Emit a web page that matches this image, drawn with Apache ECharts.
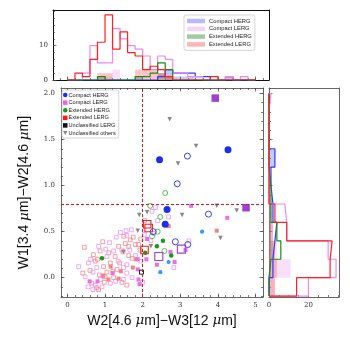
<!DOCTYPE html>
<html>
<head>
<meta charset="utf-8">
<script src="https://cdn.jsdelivr.net/npm/echarts@6/dist/echarts.min.js"></script>
<style>
  html, body { margin: 0; padding: 0; background: #fff; }
  #chart { width: 350px; height: 350px; }
</style>
</head>
<body>
<div id="chart"></div>
<script>
// ---- data ----
// colour cuts
var w2w3Cut = 2.0;
var w1w2Cut = 0.8;

// tick labels
var xMajor = [0, 1, 2, 3, 4, 5];
var yMajor = [0, 0.5, 1.0, 1.5, 2.0];
var topMajor = [0, 10];
var rightMajor = [0, 20];

// top histogram (W2-W3), bin edges + counts
var topEdges = [0.0, 0.2, 0.4, 0.6, 0.8, 1.0, 1.2, 1.4, 1.6, 1.8, 2.0, 2.2, 2.4, 2.6, 2.8, 3.0, 3.2, 3.4, 3.6, 3.8, 4.0, 4.2, 4.4, 4.6, 4.8, 5.0];
var topCmpHerg = [0, 0, 0, 0, 0, 0, 0, 0, 0, 0, 0, 0, 1, 3, 2, 2, 2, 1, 1, 0, 0, 1, 0, 0, 0];
var topCmpLerg = [0, 0, 2, 10, 5, 5, 15, 12, 10, 9, 7, 3, 7, 6, 2, 2, 1, 1, 0, 0, 0, 1, 0, 1, 0];
var topExtHerg = [0, 0, 0, 0, 1, 0, 0, 0, 0, 1, 1, 2, 5, 3, 0, 0, 0, 0, 0, 0, 0, 0, 0, 0, 0];
var topExtLerg = [0, 2, 1, 6, 11, 19, 9, 14, 8, 7, 3, 4, 3, 1, 0, 0, 0, 0, 0, 1, 0, 0, 0, 0, 0];
// faint filled sub-samples
var topCmpHergSub = [0, 0, 0, 0, 0, 0, 0, 0, 0, 0, 0, 0, 0, 3, 1, 1, 1, 0, 0, 0, 0, 1, 0, 0, 0];
var topCmpLergSub = [0, 0, 0, 0, 0, 1, 3, 0, 0, 0, 0, 0, 2, 2, 0, 0, 0, 0, 0, 0, 0, 1, 0, 0, 0];
var topExtHergSub = [0, 0, 0, 0, 1, 0, 0, 0, 0, 1, 0, 0, 2, 1, 0, 0, 0, 0, 0, 0, 0, 0, 0, 0, 0];
var topExtLergSub = [0, 0, 0, 0, 2, 2, 0, 0, 0, 3, 3, 3, 2, 1, 0, 0, 0, 0, 0, 0, 0, 0, 0, 0, 0];

// right histogram (W1-W2)
var rightEdges = [-0.2, 0.0, 0.2, 0.4, 0.6, 0.8, 1.0, 1.2, 1.4, 1.6, 1.8, 2.0];
var rightCmpHerg = [0, 2, 3, 4, 2, 1, 1, 3, 0, 0, 0];
var rightCmpLerg = [20, 34, 30, 9, 8, 0, 0, 0, 0, 0, 1];
var rightExtHerg = [0, 1, 6, 4, 1, 1, 0, 0, 0, 0, 0];
var rightExtLerg = [14, 31, 32, 9, 3, 0, 0, 0, 0, 0, 0];
var rightCmpHergSub = [0, 1, 1, 1, 1, 0, 0, 3, 0, 0, 0];
var rightCmpLergSub = [3, 11, 4, 2, 1, 0, 0, 0, 0, 0, 0];
var rightExtHergSub = [0, 1, 2, 1, 0, 0, 0, 0, 0, 0, 0];
var rightExtLergSub = [3, 4, 3, 2, 1, 0, 0, 0, 0, 0, 0];

// scatter: [W2-W3, W1-W2]
var cmpHergFilled = [[2.45, 1.28], [4.27, 1.39], [2.65, 0.74], [2.60, 0.58]];
var cmpHergLight = [[3.58, 0.50], [2.69, 0.17], [2.47, 0.06]];
var cmpHergOpen = [[3.19, 1.32], [2.92, 1.02], [2.28, 0.50], [2.87, 0.39], [3.20, 0.36], [3.75, 0.69]];

var cmpLergBig = [[3.93, 1.95], [4.75, 0.76]];
var cmpLergBigOpen = [[3.03, 0.31], [2.43, 0.23]];
var cmpLergFilled = [[3.29, 0.78], [4.25, 0.65], [3.14, 0.30], [2.74, 0.28], [2.10, 0.20], [2.85, 0.17],
  [2.38, 0.14], [1.92, -0.07], [1.87, 0.20], [1.87, 0.09], [1.89, -0.02], [0.59, -0.04], [0.80, -0.04],
  [2.12, 0.42], [1.20, 0.05]];
var cmpLergOpen = [[1.41, 0.49], [1.56, 0.51], [1.58, 0.46], [1.12, 0.38], [0.83, 0.34], [1.45, 0.30],
  [1.23, 0.29], [1.05, 0.23], [1.81, 0.24], [0.56, 0.16], [1.58, 0.14], [1.49, 0.11], [0.78, 0.11],
  [0.68, 0.06], [1.58, 0.05], [0.94, 0.02], [0.47, 0.01], [1.49, -0.02], [0.74, -0.08], [0.68, -0.13],
  [0.92, -0.10], [1.14, -0.06], [2.34, 0.76], [2.69, 0.66], [3.23, 0.40], [2.83, 0.11], [2.22, 0.40],
  [2.30, 0.48], [2.05, 0.47], [0.30, 0.12], [1.30, 0.44], [1.70, 0.52], [0.62, 0.20], [1.02, 0.31],
  [1.35, 0.18], [0.88, -0.02], [1.28, -0.04], [0.55, -0.10], [1.72, 0.00], [1.66, 0.30], [2.25, 0.72],
  [2.40, 0.62], [1.95, 0.18], [2.00, -0.05]];

var extHergFilled = [[2.54, 0.40], [0.92, 0.21], [2.07, 0.27], [2.76, 0.24], [2.38, 0.34]];
var extHergOpen = [[2.60, 0.92], [2.47, 0.66], [2.25, 0.45], [2.58, 0.29], [2.40, 0.50], [2.20, 0.78]];

var extLergBigOpen = [[2.12, 0.58], [2.16, 0.54], [2.05, 0.30]];
var extLergFilled = [[2.69, 0.56], [3.97, 0.51], [1.83, 0.20], [1.74, 0.11], [1.42, 0.07], [1.09, -0.02],
  [1.36, -0.01], [1.15, 0.12], [0.95, 0.02]];
var extLergOpen = [[1.67, 0.41], [0.94, 0.39], [0.45, 0.33], [1.36, 0.34], [1.54, 0.37], [1.63, 0.34],
  [1.81, 0.36], [1.89, 0.36], [1.48, 0.28], [0.87, 0.29], [0.69, 0.25], [1.27, 0.23], [1.63, 0.24],
  [1.72, 0.21], [0.74, 0.18], [1.14, 0.16], [1.39, 0.16], [0.96, 0.12], [1.32, 0.09], [0.41, 0.05],
  [1.05, 0.06], [1.21, 0.07], [0.85, 0.03], [1.23, 0.00], [0.65, -0.06], [0.78, -0.11], [0.83, -0.13],
  [0.98, -0.05], [1.58, -0.08], [1.00, 0.01], [1.95, 0.42], [1.93, 0.30], [2.05, 0.62], [0.60, 0.08],
  [1.10, 0.27], [1.50, 0.45], [0.80, 0.20], [1.45, -0.05], [1.75, 0.44]];

var unclLerg = [[1.97, 0.06]];
var unclOthers = [[2.72, 1.72], [3.42, 1.43], [2.94, 1.24], [2.12, 0.71], [3.97, 0.78], [4.50, 0.73],
  [3.05, 0.68], [4.07, 0.43], [1.91, 0.68], [1.87, 0.51], [1.49, 0.28], [2.22, 0.34]];

// ---- helpers ----
var frameCol = '#666';
var tickCol = '#444';

function range(a, b, step) {
  var out = [];
  for (var v = a; v <= b + 1e-9; v += step) out.push(Math.round(v * 100) / 100);
  return out;
}

function outline(edges, counts, vertical) {
  var pts = [[edges[0], 0]];
  for (var i = 0; i < counts.length; i++) {
    pts.push([edges[i], counts[i]]);
    pts.push([edges[i + 1], counts[i]]);
  }
  pts.push([edges[edges.length - 1], 0]);
  if (vertical) pts = pts.map(function (p) { return [p[1], p[0]]; });
  return pts;
}

function bars(edges, counts) {
  var out = [];
  for (var i = 0; i < counts.length; i++) {
    if (counts[i] > 0) out.push([edges[i], edges[i + 1], counts[i]]);
  }
  return out;
}

var xAxes = [], yAxes = [];
function addAxis(list, o) {
  var a = {
    type: 'value', gridIndex: o.grid, position: o.pos, min: o.min, max: o.max,
    axisLine: { show: o.line !== false, onZero: false, lineStyle: { color: o.frame || frameCol, width: 1 } },
    axisTick: { show: !!o.ticks, inside: true, length: o.len || 3.5, customValues: o.ticks || [],
      lineStyle: { color: tickCol, width: 0.7 } },
    axisLabel: { show: false },
    splitLine: { show: false }
  };
  if (o.labels) {
    a.axisLabel = { show: true, customValues: o.labels, margin: o.margin || 4,
      fontFamily: 'DejaVu Serif', fontSize: 7, color: '#333', formatter: o.fmt };
  }
  if (o.extra) Object.assign(a, o.extra);
  list.push(a);
  return list.length - 1;
}

var nameStyle = { fontFamily: 'Liberation Sans', fontSize: 14, color: '#111',
  rich: { i: { fontStyle: 'italic', fontFamily: 'DejaVu Serif', fontSize: 13.5, color: '#111' } } };

// scatter grid (0)
var sx = addAxis(xAxes, { grid: 0, pos: 'bottom', min: -0.17, max: 5.2, ticks: xMajor, labels: xMajor,
  fmt: function (v) { return String(v); }, margin: 5,
  extra: { name: 'W2[4.6 {i|μ}m]−W3[12 {i|μ}m]', nameLocation: 'middle', nameGap: 13,
    nameTextStyle: Object.assign({ verticalAlign: 'top' }, nameStyle) } });
addAxis(xAxes, { grid: 0, pos: 'bottom', min: -0.17, max: 5.2, ticks: range(-0.2, 5.2, 0.2), len: 2, line: false });
addAxis(xAxes, { grid: 0, pos: 'top', min: -0.17, max: 5.2, ticks: xMajor });
addAxis(xAxes, { grid: 0, pos: 'top', min: -0.17, max: 5.2, ticks: range(-0.2, 5.2, 0.2), len: 2, line: false });
var sy = addAxis(yAxes, { grid: 0, pos: 'left', min: -0.21, max: 2.06, ticks: yMajor, labels: yMajor,
  fmt: function (v) { return v.toFixed(1); }, margin: 6,
  extra: { name: 'W1[3.4 {i|μ}m]−W2[4.6 {i|μ}m]', nameLocation: 'middle', nameGap: 30,
    nameTextStyle: nameStyle } });
addAxis(yAxes, { grid: 0, pos: 'left', min: -0.21, max: 2.06, ticks: range(-0.2, 2.0, 0.1), len: 2, line: false });
addAxis(yAxes, { grid: 0, pos: 'right', min: -0.21, max: 2.06, ticks: yMajor });
addAxis(yAxes, { grid: 0, pos: 'right', min: -0.21, max: 2.06, ticks: range(-0.2, 2.0, 0.1), len: 2, line: false });

// top histogram grid (1)
var tx = addAxis(xAxes, { grid: 1, pos: 'bottom', min: -0.383, max: 5.36, ticks: xMajor, frame: '#111' });
addAxis(xAxes, { grid: 1, pos: 'bottom', min: -0.383, max: 5.36, ticks: range(-0.2, 5.2, 0.2), len: 2, line: false });
addAxis(xAxes, { grid: 1, pos: 'top', min: -0.383, max: 5.36, frame: '#111' });
var ty = addAxis(yAxes, { grid: 1, pos: 'left', min: 0, max: 20.4, ticks: topMajor, labels: topMajor,
  fmt: function (v) { return String(v); }, margin: 5, frame: '#111' });
addAxis(yAxes, { grid: 1, pos: 'left', min: 0, max: 20.4, ticks: range(0, 20, 2), len: 2, line: false });
addAxis(yAxes, { grid: 1, pos: 'right', min: 0, max: 20.4, frame: '#111' });

// right histogram grid (2)
var rx = addAxis(xAxes, { grid: 2, pos: 'bottom', min: 0, max: 35.5, ticks: rightMajor, labels: rightMajor,
  fmt: function (v) { return String(v); }, margin: 5 });
addAxis(xAxes, { grid: 2, pos: 'bottom', min: 0, max: 35.5, ticks: range(0, 35, 5), len: 2, line: false });
addAxis(xAxes, { grid: 2, pos: 'top', min: 0, max: 35.5 });
var ry = addAxis(yAxes, { grid: 2, pos: 'left', min: -0.21, max: 2.06, ticks: yMajor });
addAxis(yAxes, { grid: 2, pos: 'left', min: -0.21, max: 2.06, ticks: range(-0.2, 2.0, 0.1), len: 2, line: false });
addAxis(yAxes, { grid: 2, pos: 'right', min: -0.21, max: 2.06 });

// ---- series ----
var cls = [
  { name: 'Compact HERG', line: '#2a3cff', fill: 'rgba(90,100,255,0.35)', key: 'rgba(110,120,255,0.5)' },
  { name: 'Compact LERG', line: '#ee88ee', fill: 'rgba(240,150,240,0.3)', key: 'rgba(240,170,240,0.5)' },
  { name: 'Extended HERG', line: '#1a8a1a', fill: 'rgba(40,140,40,0.35)', key: 'rgba(80,160,80,0.55)' },
  { name: 'Extended LERG', line: '#ff2020', fill: 'rgba(255,90,90,0.35)', key: 'rgba(255,120,120,0.55)' }
];
var topCounts = [topCmpHerg, topCmpLerg, topExtHerg, topExtLerg];
var topSubs = [topCmpHergSub, topCmpLergSub, topExtHergSub, topExtLergSub];
var rightCounts = [rightCmpHerg, rightCmpLerg, rightExtHerg, rightExtLerg];
var rightSubs = [rightCmpHergSub, rightCmpLergSub, rightExtHergSub, rightExtLergSub];

var series = [];
cls.forEach(function (c, k) {
  var col = c.fill;
  series.push({
    type: 'custom', name: c.name + ' (hist)', xAxisIndex: tx, yAxisIndex: ty, silent: true,
    data: bars(topEdges, topSubs[k]), encode: { x: [0, 1], y: 2 },
    renderItem: function (params, api) {
      var p0 = api.coord([api.value(0), api.value(2)]);
      var p1 = api.coord([api.value(1), 0]);
      return { type: 'rect', shape: { x: p0[0], y: p0[1], width: p1[0] - p0[0], height: p1[1] - p0[1] },
        style: { fill: col } };
    }
  });
  series.push({
    type: 'custom', name: c.name + ' (hist)', xAxisIndex: rx, yAxisIndex: ry, silent: true,
    data: bars(rightEdges, rightSubs[k]), encode: { x: 2, y: [0, 1] },
    renderItem: function (params, api) {
      var p0 = api.coord([0, api.value(1)]);
      var p1 = api.coord([api.value(2), api.value(0)]);
      return { type: 'rect', shape: { x: p0[0], y: p0[1], width: p1[0] - p0[0], height: p1[1] - p0[1] },
        style: { fill: col } };
    }
  });
});
cls.forEach(function (c, k) {
  series.push({
    type: 'line', name: c.name + ' (hist)', xAxisIndex: tx, yAxisIndex: ty, silent: true,
    data: outline(topEdges, topCounts[k], false), showSymbol: false, symbol: 'none',
    lineStyle: { color: c.line, width: 1.2 }, itemStyle: { color: c.line }
  });
  series.push({
    type: 'line', name: c.name + ' (hist)', xAxisIndex: rx, yAxisIndex: ry, silent: true,
    data: outline(rightEdges, rightCounts[k], true), showSymbol: false, symbol: 'none',
    lineStyle: { color: c.line, width: 1.2 }, itemStyle: { color: c.line }
  });
});

function pts(name, data, symbol, size, fill, border, bw) {
  series.push({
    type: 'scatter', name: name, xAxisIndex: sx, yAxisIndex: sy, data: data,
    symbol: symbol, symbolSize: size, silent: true,
    itemStyle: { color: fill, borderColor: border, borderWidth: bw, opacity: 1 }
  });
}
var triDown = 'path://M0,0L10,0L5,9Z';
pts('Extended LERG', extLergOpen, 'rect', 3.8, 'transparent', '#f27a7a', 0.7);
pts('Compact LERG', cmpLergOpen, 'rect', 3.8, 'transparent', '#e888ee', 0.7);
pts('Extended LERG', extLergFilled, 'rect', 4, '#f08484', '#f08484', 0);
pts('Compact LERG', cmpLergFilled, 'rect', 4, '#e870e8', '#e870e8', 0);
pts('Unclassified others', unclOthers, triDown, 4.5, '#888', '#888', 0);
pts('Unclassified LERG', unclLerg, 'rect', 4, 'transparent', '#111', 0.9);
pts('Extended HERG', extHergOpen, 'circle', 5, 'transparent', '#44bb44', 0.9);
pts('Extended HERG', extHergFilled, 'circle', 4.5, '#1a9a1a', '#1a9a1a', 0);
pts('Extended LERG', extLergBigOpen, 'rect', 7.5, 'transparent', '#ee2222', 1.1);
pts('Compact LERG', cmpLergBigOpen, 'rect', 8, 'transparent', '#a040c8', 1.1);
pts('Compact LERG', cmpLergBig, 'rect', 7.5, '#a040d0', '#a040d0', 0);
pts('Compact HERG', cmpHergOpen, 'circle', 6, 'transparent', '#3344ee', 1);
pts('Compact HERG', cmpHergLight, 'circle', 4.2, '#3399ff', '#3399ff', 0);
pts('Compact HERG', cmpHergFilled, 'circle', 7, '#1a30f0', '#1a30f0', 0);

// colour cuts as dashed lines
series.push({
  type: 'scatter', name: 'cuts', xAxisIndex: sx, yAxisIndex: sy, data: [], silent: true,
  markLine: {
    silent: true, symbol: ['none', 'none'], label: { show: false }, animation: false,
    lineStyle: { color: '#d81818', type: [3, 2], width: 1 },
    data: [{ xAxis: w2w3Cut }, { yAxis: w1w2Cut }]
  }
});

var myChart = echarts.init(document.getElementById('chart'), null, { renderer: 'canvas' });
var option = {
  animation: false,
  grid: [
    { left: 61, top: 88, width: 202, height: 209 },
    { left: 53, top: 10, width: 216, height: 70 },
    { left: 269, top: 88, width: 70, height: 209 }
  ],
  xAxis: xAxes,
  yAxis: yAxes,
  legend: [
    {
      left: 62, top: 90, orient: 'vertical', itemWidth: 4.5, itemHeight: 4.5, itemGap: 1.6,
      padding: [2, 3, 2, 1], borderColor: '#ccc', borderWidth: 0.8, borderRadius: 2,
      backgroundColor: 'rgba(255,255,255,0.85)', selectedMode: false,
      textStyle: { fontFamily: 'Liberation Sans', fontSize: 5.6, color: '#222', padding: [0, 0, 0, -4], lineHeight: 5 },
      data: [
        { name: 'Compact HERG', icon: 'circle', itemStyle: { color: '#1a30f0', borderWidth: 0 } },
        { name: 'Compact LERG', icon: 'rect', itemStyle: { color: '#e866e8', borderWidth: 0 } },
        { name: 'Extended HERG', icon: 'circle', itemStyle: { color: '#1a9a1a', borderWidth: 0 } },
        { name: 'Extended LERG', icon: 'rect', itemStyle: { color: '#ff1a1a', borderWidth: 0 } },
        { name: 'Unclassified LERG', icon: 'rect', itemStyle: { color: '#111', borderWidth: 0 } },
        { name: 'Unclassified others', icon: triDown, itemStyle: { color: '#888', borderWidth: 0 } }
      ]
    },
    {
      left: 184, top: 15, orient: 'vertical', itemWidth: 18, itemHeight: 4.5, itemGap: 1.8,
      padding: [3, 3, 3, 3], borderColor: '#ccc', borderWidth: 0.8, borderRadius: 2,
      backgroundColor: 'rgba(255,255,255,0.85)', selectedMode: false,
      textStyle: { fontFamily: 'Liberation Sans', fontSize: 5.8, color: '#222', lineHeight: 5, padding: [0, 0, 0, -1] },
      formatter: function (n) { return n.replace(' (hist)', ''); },
      data: cls.map(function (c) {
        return { name: c.name + ' (hist)', icon: 'rect',
          itemStyle: { color: c.key, borderColor: c.key, borderWidth: 0 } };
      })
    }
  ],
  series: series
};
myChart.setOption(option);
</script>
</body>
</html>
